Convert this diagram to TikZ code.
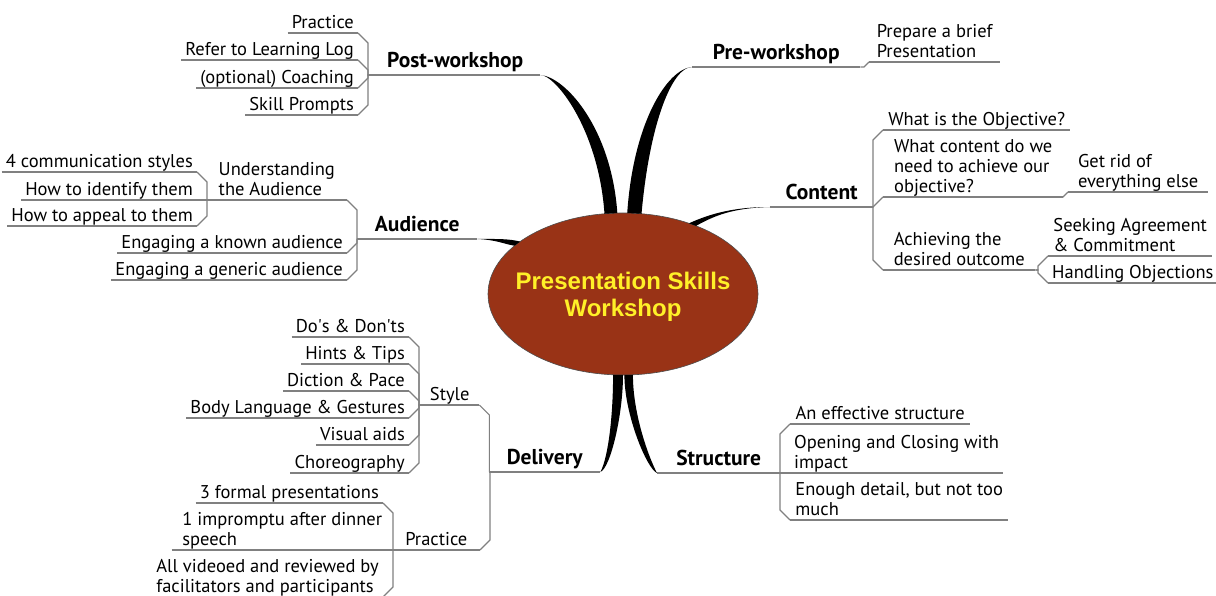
\documentclass[tikz,border=0pt]{standalone}
\usepackage{fontspec}
\setmainfont{PT Sans}
\newfontfamily\hubfont{Liberation Sans}
\usetikzlibrary{shapes.geometric,calc}

\definecolor{hubbrown}{RGB}{153,51,22}
\definecolor{hubyellow}{RGB}{255,240,40}
\definecolor{twiggray}{RGB}{128,128,128}

\tikzset{
  twig/.style={draw=twiggray, line width=1.1pt},
  topic/.style={
    inner xsep=4pt, inner ysep=-1.5pt, align=left,
    font=\fontsize{18.5}{20}\selectfont,
    execute at end node=\strut,
    append after command={(\tikzlastnode.south west) edge[twig] (\tikzlastnode.south east)},
  },
  bigtopic/.style={topic, inner ysep=0pt, font=\fontsize{21.5}{24}\selectfont\bfseries},
  % chamfered joins, children on the left / on the right
  tol/.style={to path={
    let \p1=(\tikztostart), \p2=(\tikztotarget),
        \n1={max(-10,min(10,(\y1)-(\y2)))}, \n2={abs(\n1)} in
    -- (\x2+\n2,\y1) -- (\x2+\n2,{\y2+(\n1)}) -- (\tikztotarget)}},
  tor/.style={to path={
    let \p1=(\tikztostart), \p2=(\tikztotarget),
        \n1={max(-10,min(10,(\y1)-(\y2)))}, \n2={abs(\n1)} in
    -- (\x2-\n2,\y1) -- (\x2-\n2,{\y2+(\n1)}) -- (\tikztotarget)}},
  spoke/.style={fill=black},
}

\begin{document}
\begin{tikzpicture}[x=1pt, y=-1pt]
  \useasboundingbox (0,0) rectangle (1216,596);

  % centre
  \node[ellipse, fill=hubbrown, draw=black!70, line width=.6pt,
    minimum width=270, minimum height=162, inner sep=0pt, outer sep=0pt] (hub) at (623,294) {};
  \node[font=\hubfont\bfseries\fontsize{24}{27}\selectfont, text=hubyellow, align=center, yshift=-3pt]
    (title) at (hub) {Presentation Skills\\Workshop};

  % main topics
  \node[bigtopic, anchor=south west, minimum width=170] (post) at (370,75) {Post-workshop};
  \node[bigtopic, anchor=south west, minimum width=168] (pre) at (692,67) {Pre-workshop};
  \node[bigtopic, anchor=south west, minimum width=103] (content) at (770,207) {Content};
  \node[bigtopic, anchor=south west, minimum width=120] (audience) at (357,239) {Audience};
  \node[bigtopic, anchor=south west, minimum width=111] (delivery) at (489,472) {Delivery};
  \node[bigtopic, anchor=south west, minimum width=123] (structure) at (657,473) {Structure};

  % tapered spokes
  \fill[spoke] (post.south east) .. controls +(15,0) and +(-6,-85) .. (hub.103)
    -- (hub.94) .. controls +(-6,-85) and +(25,2) .. (post.south east);
  \fill[spoke] (pre.south west) .. controls +(-20,0) and +(8,-90) .. (hub.77)
    -- (hub.87) .. controls +(6,-90) and +(-25,2) .. (pre.south west);
  \fill[spoke] (content.south west) .. controls +(-40,0) and +(18,-8) .. (hub.47)
    -- (hub.43) .. controls +(18,-10) and +(-38,1) .. (content.south west);
  \fill[spoke] (audience.south east) .. controls +(20,0) and +(-12,-3) .. (hub.153)
    -- (hub.156) .. controls +(-12,-2) and +(20,1) .. (audience.south east);
  \fill[spoke] (delivery.south east) .. controls +(8,-15) and +(0,40) .. (hub.263)
    -- (hub.270) .. controls +(0,40) and +(10,-4) .. (delivery.south east);
  \fill[spoke] (structure.south west) .. controls +(-8,-15) and +(0,40) .. (hub.277)
    -- (hub.271) .. controls +(0,40) and +(-10,-4) .. (structure.south west);

  % post-workshop
  \foreach \y/\txt [count=\i] in {33/Practice, 60/Refer to Learning Log,
      88/(optional) Coaching, 115/Skill Prompts} {
    \node[topic, anchor=south east] (pw\i) at (358,\y) {\txt};
    \draw[twig] (post.south west) to[tol] (pw\i.south east);
  }

  % pre-workshop
  \node[topic, anchor=south west, minimum width=131] (brief) at (869,62) {Prepare a brief\\Presentation};
  \draw[twig] (pre.south east) to[tor] (brief.south west);

  % content
  \node[topic, anchor=south west, minimum width=187] (objective) at (883,130) {What is the Objective?};
  \node[topic, anchor=south west, minimum width=180] (need) at (883,197)
    {What content do we\\need to achieve our\\objective?};
  \node[topic, anchor=south west, minimum width=152] (outcome) at (883,270) {Achieving the\\desired outcome};
  \foreach \kid in {objective,need,outcome}
    \draw[twig] (content.south east) to[tor] (\kid.south west);
  \node[topic, anchor=south west, minimum width=140] (getrid) at (1068,192) {Get rid of\\everything else};
  \draw[twig] (need.south east) to[tor] (getrid.south west);
  \node[topic, anchor=south west, minimum width=164] (agree) at (1048,256) {Seeking Agreement\\\& Commitment};
  \node[topic, anchor=south west, minimum width=164] (objections) at (1048,283) {Handling Objections};
  \foreach \kid in {agree,objections}
    \draw[twig] (outcome.south east) to[tor] (\kid.south west);

  % audience
  \node[topic, anchor=south east, minimum width=140] (understand) at (347,200) {Understanding\\the Audience};
  \node[topic, anchor=south east] (known) at (347,253) {Engaging a known audience};
  \node[topic, anchor=south east] (generic) at (347,280) {Engaging a generic audience};
  \foreach \kid in {understand,known,generic}
    \draw[twig] (audience.south west) to[tol] (\kid.south east);
  \foreach \y/\txt [count=\i] in {172/4 communication styles, 200/How to identify them,
      226/How to appeal to them} {
    \node[topic, anchor=south east] (aud\i) at (197,\y) {\txt};
    \draw[twig] (understand.south west) to[tol] (aud\i.south east);
  }

  % delivery
  \node[topic, anchor=south west, minimum width=59] (style) at (420,405) {Style};
  \node[topic, anchor=south east, minimum width=87] (practice) at (480,550) {Practice};
  \foreach \kid in {style,practice}
    \draw[twig] (delivery.south west) to[tol] (\kid.south east);
  \foreach \y/\txt [count=\i] in {337/Do\textquotesingle s \& Don\textquotesingle ts, 364/Hints \& Tips,
      391/Diction \& Pace, 418/Body Language \& Gestures, 445/Visual aids, 473/Choreography} {
    \node[topic, anchor=south east] (sty\i) at (409,\y) {\txt};
    \draw[twig] (style.south west) to[tol] (sty\i.south east);
  }
  \node[topic, anchor=south east] (formal) at (383,503) {3 formal presentations};
  \node[topic, anchor=south east, minimum width=221] (impromptu) at (393,550) {1 impromptu after dinner\\speech};
  \node[topic, anchor=south east] (videoed) at (383,597) {All videoed and reviewed by\\facilitators and participants};
  \foreach \kid in {formal,impromptu,videoed}
    \draw[twig] (practice.south west) to[tol] (\kid.south east);

  % structure
  \node[topic, anchor=south west, minimum width=180] (effective) at (790,424) {An effective structure};
  \node[topic, anchor=south west, minimum width=208] (opening) at (790,473) {Opening and Closing with\\impact};
  \node[topic, anchor=south west, minimum width=218] (enough) at (790,520) {Enough detail, but not too\\much};
  \foreach \kid in {effective,opening,enough}
    \draw[twig] (structure.south east) to[tor] (\kid.south west);
\end{tikzpicture}
\end{document}
